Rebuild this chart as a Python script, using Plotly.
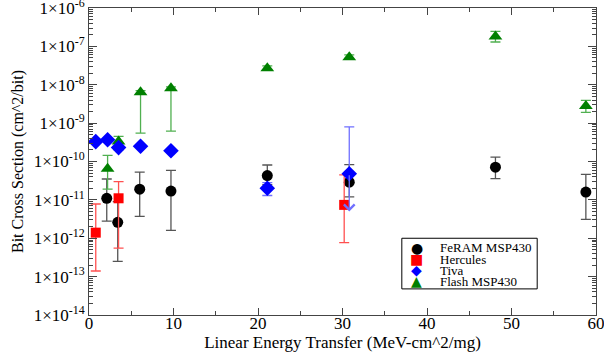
import math
import plotly.graph_objects as go

# ---- data ----
feram_x = [2.1, 3.4, 6.0, 9.7, 21.1, 30.8, 48.1, 58.8]
feram_y = [1.1e-11, 2.6e-12, 1.9e-11, 1.7e-11, 4.3e-11, 2.9e-11, 7.1e-11, 1.6e-11]
feram_hi = [3.5e-11, 9e-12, 5.3e-11, 5.9e-11, 8.1e-11, 8.3e-11, 1.3e-10, 4.6e-11]
feram_lo = [2.8e-12, 2.5e-13, 3.7e-12, 1.6e-12, 2.5e-11, 1.2e-11, 3.6e-11, 3.1e-12]

herc_x = [0.8, 3.5, 30.2]
herc_y = [1.4e-12, 1.1e-11, 7.4e-12]
herc_hi = [7.8e-12, 3.0e-11, 4.5e-11]
herc_lo = [1.4e-13, 5.5e-13, 7.7e-13]

tiva_x = [0.8, 2.2, 3.5, 6.1, 9.7, 21.1, 30.8]
tiva_y = [3.3e-10, 3.7e-10, 2.3e-10, 2.5e-10, 1.9e-10, 2.0e-11, 4.8e-11]
tiva_hi = [3.3e-10, 3.7e-10, 2.6e-10, 2.5e-10, 1.9e-10, 2.8e-11, 8.0e-10]
tiva_lo = [3.3e-10, 3.7e-10, 2.0e-10, 2.5e-10, 1.9e-10, 1.3e-11, 4.8e-11]
# lower bound drawn as an arrow for Tiva
tiva_arrow_x = [30.8]
tiva_arrow_from = [4.8e-11]
tiva_arrow_to = [5.0e-12]

flash_x = [2.2, 3.5, 6.1, 9.7, 21.1, 30.8, 48.1, 58.8]
flash_y = [6.5e-11, 3.3e-10, 6.4e-9, 8.1e-9, 2.7e-8, 5.2e-8, 1.8e-7, 2.8e-9]
flash_hi = [1.45e-10, 4.5e-10, 7.0e-9, 8.8e-9, 3.1e-8, 6.0e-8, 2.45e-7, 3.9e-9]
flash_lo = [1.9e-11, 2.3e-10, 5.5e-10, 6.2e-10, 2.4e-8, 4.6e-8, 1.3e-7, 1.9e-9]

series_names = ["FeRAM MSP430", "Hercules", "Tiva", "Flash MSP430"]

y_tickvals = [1e-14, 1e-13, 1e-12, 1e-11, 1e-10, 1e-9, 1e-8, 1e-7, 1e-6]
y_ticktext = ["1×10<sup>-14</sup>", "1×10<sup>-13</sup>", "1×10<sup>-12</sup>",
              "1×10<sup>-11</sup>", "1×10<sup>-10</sup>", "1×10<sup>-9</sup>",
              "1×10<sup>-8</sup>", "1×10<sup>-7</sup>", "1×10<sup>-6</sup>"]

SERIF = "Liberation Serif"
AX = "#444444"

colors = ["black", "#ff0000", "#0000ff", "#008000"]
ecolors = ["#555555", "#ff5050", "#7070ff", "#50b050"]
symbols = ["circle", "square", "diamond", "triangle-up"]
sizes = [11, 10, 12, 12]
glyphs = ["●", "■", "◆", "▲"]


def series(i, xs, ys, hi, lo):
    return go.Scatter(
        x=xs, y=ys, name=series_names[i], mode="markers",
        marker=dict(color=colors[i], symbol=symbols[i], size=sizes[i], line=dict(width=0)),
        error_y=dict(type="data", symmetric=False,
                     array=[h - v for h, v in zip(hi, ys)],
                     arrayminus=[v - l for v, l in zip(ys, lo)],
                     color=ecolors[i], thickness=1.3, width=5),
        showlegend=False,
    )


fig = go.Figure()
fig.add_trace(series(0, feram_x, feram_y, feram_hi, feram_lo))
fig.add_trace(series(1, herc_x, herc_y, herc_hi, herc_lo))
fig.add_trace(series(3, flash_x, flash_y, flash_hi, flash_lo))
fig.add_trace(series(2, tiva_x, tiva_y, tiva_hi, tiva_lo))

# arrow for Tiva lower bound
for ax_, yf, yt in zip(tiva_arrow_x, tiva_arrow_from, tiva_arrow_to):
    fig.add_annotation(x=ax_, y=math.log10(yt), ax=ax_, ay=math.log10(yf),
                       xref="x", yref="y", axref="x", ayref="y", text="",
                       showarrow=True, arrowhead=4, arrowsize=1.6, arrowwidth=1.3,
                       arrowcolor=ecolors[2], standoff=0, startstandoff=0)

axis_common = dict(
    showline=True, linecolor=AX, linewidth=1, mirror="ticks",
    ticks="inside", tickcolor=AX, showgrid=False, zeroline=False,
    tickfont=dict(family=SERIF, size=17, color="black"), automargin=False,
    ticklabeloverflow="allow",
)

fig.update_xaxes(
    range=[0, 60], dtick=10, ticklen=7, ticklabelstandoff=-7,
    minor=dict(dtick=5, ticks="inside", ticklen=4, tickcolor=AX),
    title=dict(text="Linear Energy Transfer (MeV-cm^2/mg)",
               font=dict(family=SERIF, size=17, color="black"), standoff=0),
    **axis_common,
)
fig.update_yaxes(
    type="log", range=[-14, -6], tickvals=y_tickvals, ticktext=y_ticktext, ticklen=8,
    minor=dict(dtick="D1", ticks="inside", ticklen=4, tickcolor=AX),
    title=dict(text="Bit Cross Section (cm^2/bit)",
               font=dict(family=SERIF, size=16, color="black"), standoff=6),
    **axis_common,
)

# ---- custom compact legend ----
lx0, lx1, ly0, ly1 = 0.617, 0.884, 0.085, 0.250
fig.add_shape(type="rect", xref="paper", yref="paper", x0=lx0, x1=lx1, y0=ly0, y1=ly1,
              line=dict(color="black", width=1), fillcolor="white", layer="above")
row_y = [0.219, 0.181, 0.146, 0.110]
for i, ry in enumerate(row_y):
    fig.add_annotation(xref="paper", yref="paper", x=0.646, y=ry, text=glyphs[i],
                       showarrow=False, xanchor="center", yanchor="middle",
                       font=dict(family="DejaVu Sans", size=14, color=colors[i]))
    fig.add_annotation(xref="paper", yref="paper", x=0.688, y=ry, text=series_names[i],
                       showarrow=False, xanchor="left", yanchor="middle",
                       font=dict(family=SERIF, size=13, color="black"))

fig.update_layout(
    width=604, height=354,
    margin=dict(l=89, r=8, t=8, b=39),
    paper_bgcolor="white", plot_bgcolor="white",
    font=dict(family=SERIF, size=17, color="black"),
    showlegend=False,
)

fig.write_html("out.html", config={"displayModeBar": False},
               post_script="document.body.style.margin='0px';document.body.style.overflow='hidden';")
